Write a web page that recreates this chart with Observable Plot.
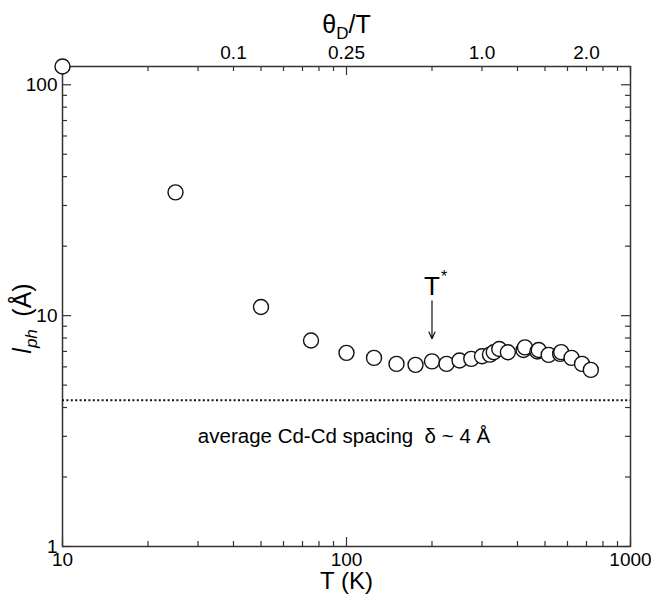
<!DOCTYPE html>
<html><head><meta charset="utf-8">
<script src="https://cdn.jsdelivr.net/npm/d3@7"></script>
<script src="https://cdn.jsdelivr.net/npm/@observablehq/plot@0.6"></script>
<style>body{margin:0;background:#fff} svg{display:block}</style>
</head><body><div id="chart"></div>
<script>
// Data
const temperature = [10, 25, 50, 75, 100, 125, 150, 175, 200, 225, 250, 275, 300, 320, 330, 345, 370, 420, 425, 470, 475, 515, 565, 570, 620, 675, 725];
const lph = [120, 34.2, 10.9, 7.8, 6.9, 6.56, 6.18, 6.12, 6.34, 6.18, 6.39, 6.5, 6.67, 6.78, 6.94, 7.17, 6.94, 7.1, 7.29, 6.99, 7.1, 6.76, 6.83, 6.95, 6.56, 6.18, 5.82];

const xMajor = [10, 100, 1000];
const xMinor = [20, 30, 40, 50, 60, 70, 80, 90, 200, 300, 400, 500, 600, 700, 800, 900];
const yMajor = [1, 10, 100];
const yMinor = [2, 3, 4, 5, 6, 7, 8, 9, 20, 30, 40, 50, 60, 70, 80, 90];
const thetaTickT = [40, 100, 300, 700];
const thetaLabels = ["0.1", "0.25", "1.0", "2.0"];
const cdSpacing = [4.3];
const tStarArrow = [{T: 200, from: 11.6, to: 7.95}];
const tStarLabel = [{T: 200, l: 13.3, text: "T"}];
const noteLabel = [{T: 98, l: 3.0, text: "average Cd-Cd spacing  δ ~ 4 Å"}];

const data = temperature.map((T, i) => ({T, l: lph[i]}));
const thetaTicks = thetaTickT.map((T, i) => ({T, label: thetaLabels[i]}));
const font = "'Liberation Sans', Helvetica, Arial, sans-serif";
const W = 651, H = 600, mt = 66, mb = 54, ml = 62, mr = 21;
const ph = H - mt - mb, pw = W - ml - mr;

const plot = Plot.plot({
  width: W, height: H,
  marginTop: mt, marginBottom: mb, marginLeft: ml, marginRight: mr,
  style: {fontFamily: font, background: "#fff", color: "#000"},
  x: {type: "log", domain: [10, 1000]},
  y: {type: "log", domain: [1, 120]},
  marks: [
    // tick labels
    Plot.axisX({anchor: "bottom", ticks: xMajor, tickSize: 0, tickPadding: 6, fontSize: 19, tickFormat: d => String(d), label: null}),
    Plot.text(thetaTicks, {x: "T", frameAnchor: "top", dy: -21, text: "label", fontSize: 19, fill: "#000"}),
    Plot.axisY({anchor: "left", ticks: yMajor, tickSize: 0, tickPadding: 5, fontSize: 19, tickFormat: d => String(d), label: null}),
    // inward ticks, all four sides
    Plot.tickX(xMinor, {x: d => d, insetTop: ph - 5, stroke: "#333", strokeWidth: 1.2}),
    Plot.tickX(xMajor, {x: d => d, insetTop: ph - 9, stroke: "#333", strokeWidth: 1.2}),
    Plot.tickX(xMinor, {x: d => d, insetBottom: ph - 5, stroke: "#333", strokeWidth: 1.2}),
    Plot.tickX(xMajor, {x: d => d, insetBottom: ph - 9, stroke: "#333", strokeWidth: 1.2}),
    Plot.tickY(yMinor, {y: d => d, insetRight: pw - 5, stroke: "#333", strokeWidth: 1.2}),
    Plot.tickY(yMajor, {y: d => d, insetRight: pw - 9, stroke: "#333", strokeWidth: 1.2}),
    Plot.tickY(yMinor, {y: d => d, insetLeft: pw - 5, stroke: "#333", strokeWidth: 1.2}),
    Plot.tickY(yMajor, {y: d => d, insetLeft: pw - 9, stroke: "#333", strokeWidth: 1.2}),
    Plot.frame({stroke: "#333", strokeWidth: 1.5}),
    // dotted Cd-Cd spacing line
    Plot.ruleY(cdSpacing, {stroke: "#111", strokeWidth: 2.2, strokeDasharray: "2,2.4"}),
    // data
    Plot.dot(data, {x: "T", y: "l", r: 7.5, fill: "#fff", stroke: "#111", strokeWidth: 1.4}),
    // T* annotation
    Plot.arrow(tStarArrow, {x1: "T", x2: "T", y1: "from", y2: "to", stroke: "#111", strokeWidth: 1.2, headLength: 9, headAngle: 50}),
    Plot.text(tStarLabel, {x: "T", y: "l", text: "text", fontSize: 26, fill: "#000"}),
    Plot.text(tStarLabel, {x: "T", y: "l", text: () => "*", fontSize: 16, dx: 12, dy: -10, fill: "#000"}),
    Plot.text(noteLabel, {x: "T", y: "l", text: "text", fontSize: 20.5, fill: "#000"}),
    // axis titles
    Plot.text(["T (K)"], {frameAnchor: "bottom", dy: 42, fontSize: 24, fill: "#000"}),
    Plot.text(["θD/T"], {frameAnchor: "top", dy: -51, fontSize: 25, fill: "#000"}),
    Plot.text(["lph (Å)"], {frameAnchor: "left", dx: -40, dy: 6, rotate: -90, fontSize: 25, fill: "#000", textAnchor: "start"})
  ]
});

const root = d3.select(plot);
root.selectAll("text").filter(function () { return this.textContent === "θD/T"; }).each(function () {
  const t = d3.select(this); t.text(null);
  t.append("tspan").text("θ");
  t.append("tspan").attr("font-size", 17).attr("dy", 6).text("D");
  t.append("tspan").attr("dy", -6).text("/T");
});
root.selectAll("text").filter(function () { return this.textContent === "lph (Å)"; }).each(function () {
  const t = d3.select(this); t.text(null);
  t.append("tspan").attr("font-style", "italic").text("l");
  t.append("tspan").attr("font-style", "italic").attr("font-size", 17).attr("dy", 6).text("ph");
  t.append("tspan").attr("dy", -6).text("\u2002(Å)");
});

document.getElementById("chart").appendChild(plot);
// center the rotated, start-anchored y-axis title on the frame
root.selectAll("text").filter(function () { return this.textContent === "lph\u2002(Å)"; }).each(function () {
  const w = this.getComputedTextLength();
  d3.select(this).attr("x", -w / 2 - 6);
});
</script>
</body></html>
